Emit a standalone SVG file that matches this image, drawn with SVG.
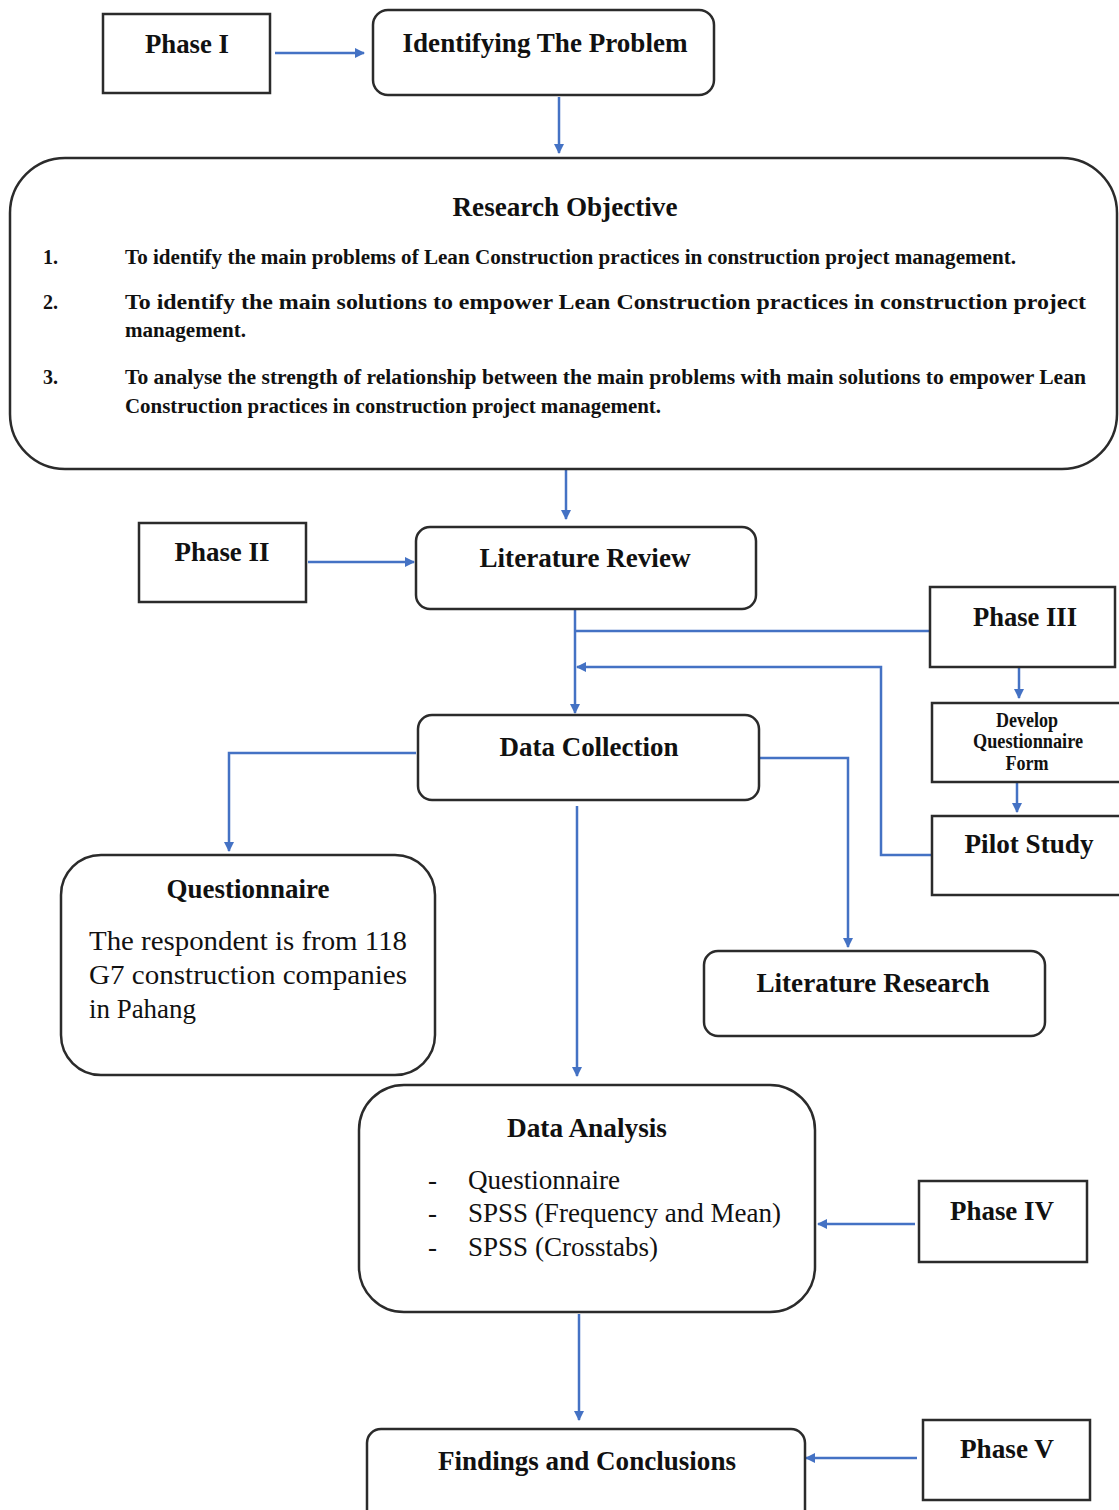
<svg xmlns="http://www.w3.org/2000/svg" width="1119" height="1510" viewBox="0 0 1119 1510">
<style>
.box{fill:#fff;stroke:#2b2b2b;stroke-width:2.5}
.t{font-family:"Liberation Serif","Times New Roman",serif;font-weight:bold;fill:#111;font-size:27px}
.r{font-family:"Liberation Serif","Times New Roman",serif;fill:#111;font-size:27px}
.s{font-family:"Liberation Serif","Times New Roman",serif;font-weight:bold;fill:#111;font-size:20px}
.c{fill:none;stroke:#4472C4;stroke-width:2.5}
</style>
<defs>
<marker id="a" markerWidth="10" markerHeight="10" refX="9" refY="5" orient="auto" markerUnits="userSpaceOnUse">
<path d="M0,0 L10,5 L0,10 Z" fill="#4472C4"/>
</marker>
</defs>
<rect width="1119" height="1510" fill="#fff"/>
<g id="connectors">
<path class="c" d="M275,53 H364" marker-end="url(#a)"/>
<path class="c" d="M559,97 V153" marker-end="url(#a)"/>
<path class="c" d="M566,469 V519" marker-end="url(#a)"/>
<path class="c" d="M308,562 H414" marker-end="url(#a)"/>
<path class="c" d="M575,609 V713" marker-end="url(#a)"/>
<path class="c" d="M930,631 H575"/>
<path class="c" d="M932,855 H881 V667 H577" marker-end="url(#a)"/>
<path class="c" d="M1019,667 V698" marker-end="url(#a)"/>
<path class="c" d="M1017,782 V812" marker-end="url(#a)"/>
<path class="c" d="M416,753 H229 V851" marker-end="url(#a)"/>
<path class="c" d="M760,758 H848 V947" marker-end="url(#a)"/>
<path class="c" d="M577,806 V1076" marker-end="url(#a)"/>
<path class="c" d="M915,1224 H818" marker-end="url(#a)"/>
<path class="c" d="M579,1314 V1420" marker-end="url(#a)"/>
<path class="c" d="M917,1458 H806" marker-end="url(#a)"/>
</g>
<g id="phase1">
<rect class="box" x="103" y="14" width="167" height="79"/>
<text class="t" x="187" y="53" text-anchor="middle" textLength="84" lengthAdjust="spacingAndGlyphs">Phase I</text>
</g>
<g id="identifying">
<rect class="box" x="373" y="10" width="341" height="85" rx="15"/>
<text class="t" x="545" y="52" text-anchor="middle" textLength="285" lengthAdjust="spacingAndGlyphs">Identifying The Problem</text>
</g>
<g id="objective">
<rect class="box" x="10" y="158" width="1107" height="311" rx="55"/>
<text class="t" x="565" y="216" text-anchor="middle" textLength="225" lengthAdjust="spacingAndGlyphs">Research Objective</text>
<text class="s" x="43" y="264" font-weight="normal">1.</text>
<text class="s" x="125" y="264" textLength="891" lengthAdjust="spacingAndGlyphs">To identify the main problems of Lean Construction practices in construction project management.</text>
<text class="s" x="43" y="309" font-weight="normal">2.</text>
<text class="s" x="125" y="309" textLength="961" lengthAdjust="spacingAndGlyphs">To  identify  the  main  solutions  to  empower  Lean  Construction  practices  in  construction  project</text>
<text class="s" x="125" y="337" textLength="121" lengthAdjust="spacingAndGlyphs">management.</text>
<text class="s" x="43" y="384" font-weight="normal">3.</text>
<text class="s" x="125" y="384" textLength="961" lengthAdjust="spacingAndGlyphs">To analyse the strength of relationship between the main problems with main solutions to empower Lean</text>
<text class="s" x="125" y="413" textLength="536" lengthAdjust="spacingAndGlyphs">Construction practices in construction project management.</text>
</g>
<g id="phase2">
<rect class="box" x="139" y="523" width="167" height="79"/>
<text class="t" x="222" y="561" text-anchor="middle" textLength="95" lengthAdjust="spacingAndGlyphs">Phase II</text>
</g>
<g id="litreview">
<rect class="box" x="416" y="527" width="340" height="82" rx="14"/>
<text class="t" x="585" y="567" text-anchor="middle" textLength="211" lengthAdjust="spacingAndGlyphs">Literature Review</text>
</g>
<g id="phase3">
<rect class="box" x="930" y="587" width="185" height="80"/>
<text class="t" x="1025" y="626" text-anchor="middle" textLength="104" lengthAdjust="spacingAndGlyphs">Phase III</text>
</g>
<g id="develop">
<rect class="box" x="932" y="703" width="190" height="79"/>
<text class="s" x="1027" y="727" text-anchor="middle" font-size="17" textLength="62" lengthAdjust="spacingAndGlyphs">Develop</text>
<text class="s" x="1028" y="748" text-anchor="middle" font-size="17" textLength="110" lengthAdjust="spacingAndGlyphs">Questionnaire</text>
<text class="s" x="1027" y="770" text-anchor="middle" font-size="17" textLength="43" lengthAdjust="spacingAndGlyphs">Form</text>
</g>
<g id="pilot">
<rect class="box" x="932" y="816" width="190" height="79"/>
<text class="t" x="1029" y="853" text-anchor="middle" textLength="129" lengthAdjust="spacingAndGlyphs">Pilot Study</text>
</g>
<g id="datacollection">
<rect class="box" x="418" y="715" width="341" height="85" rx="14"/>
<text class="t" x="589" y="756" text-anchor="middle" textLength="179" lengthAdjust="spacingAndGlyphs">Data Collection</text>
</g>
<g id="questionnaire">
<rect class="box" x="61" y="855" width="374" height="220" rx="40"/>
<text class="t" x="248" y="898" text-anchor="middle" textLength="163" lengthAdjust="spacingAndGlyphs">Questionnaire</text>
<text class="r" x="89" y="950" textLength="318" lengthAdjust="spacingAndGlyphs">The respondent is from 118</text>
<text class="r" x="89" y="984" textLength="318" lengthAdjust="spacingAndGlyphs">G7  construction  companies</text>
<text class="r" x="89" y="1018" textLength="107" lengthAdjust="spacingAndGlyphs">in Pahang</text>
</g>
<g id="litresearch">
<rect class="box" x="704" y="951" width="341" height="85" rx="14"/>
<text class="t" x="873" y="992" text-anchor="middle" textLength="233" lengthAdjust="spacingAndGlyphs">Literature Research</text>
</g>
<g id="dataanalysis">
<rect class="box" x="359" y="1085" width="456" height="227" rx="45"/>
<text class="t" x="587" y="1137" text-anchor="middle" textLength="160" lengthAdjust="spacingAndGlyphs">Data Analysis</text>
<text class="r" x="428" y="1189">-</text>
<text class="r" x="468" y="1189" textLength="152" lengthAdjust="spacingAndGlyphs">Questionnaire</text>
<text class="r" x="428" y="1222">-</text>
<text class="r" x="468" y="1222" textLength="313" lengthAdjust="spacingAndGlyphs">SPSS (Frequency and Mean)</text>
<text class="r" x="428" y="1256">-</text>
<text class="r" x="468" y="1256" textLength="190" lengthAdjust="spacingAndGlyphs">SPSS (Crosstabs)</text>
</g>
<g id="phase4">
<rect class="box" x="919" y="1181" width="168" height="81"/>
<text class="t" x="1002" y="1220" text-anchor="middle" textLength="104" lengthAdjust="spacingAndGlyphs">Phase IV</text>
</g>
<g id="findings">
<rect class="box" x="367" y="1429" width="438" height="95" rx="14"/>
<text class="t" x="587" y="1470" text-anchor="middle" textLength="298" lengthAdjust="spacingAndGlyphs">Findings and Conclusions</text>
</g>
<g id="phase5">
<rect class="box" x="923" y="1420" width="167" height="80"/>
<text class="t" x="1007" y="1458" text-anchor="middle" textLength="94" lengthAdjust="spacingAndGlyphs">Phase V</text>
</g>
</svg>
